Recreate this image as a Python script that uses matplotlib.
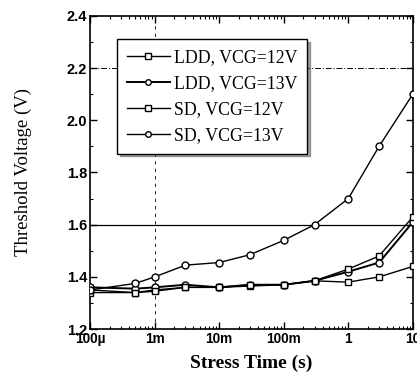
import matplotlib
matplotlib.use("Agg")
import matplotlib.pyplot as plt
from matplotlib.ticker import FixedLocator, MultipleLocator, LogLocator, NullFormatter

times = [1e-4, 5e-4, 1e-3, 3e-3, 1e-2, 3e-2, 1e-1, 3e-1, 1, 3, 10]
ldd_12 = [1.34, 1.34, 1.35, 1.36, 1.36, 1.365, 1.37, 1.385, 1.38, 1.40, 1.44]
ldd_13 = [1.36, 1.355, 1.36, 1.37, 1.36, 1.37, 1.37, 1.385, 1.42, 1.455, 1.61]
sd_12 = [1.35, 1.34, 1.345, 1.36, 1.36, 1.37, 1.37, 1.385, 1.43, 1.48, 1.63]
sd_13 = [1.35, 1.375, 1.40, 1.445, 1.455, 1.485, 1.54, 1.60, 1.70, 1.90, 2.10]

series_labels = ["LDD, VCG=12V", "LDD, VCG=13V", "SD, VCG=12V", "SD, VCG=13V"]
xtick_vals = [1e-4, 1e-3, 1e-2, 1e-1, 1, 10]
xtick_labels = ["100\u00b5", "1m", "10m", "100m", "1", "10"]
ytick_vals = [1.2, 1.4, 1.6, 1.8, 2.0, 2.2, 2.4]

fig = plt.figure(figsize=(4.17, 3.77), dpi=100)
ax = fig.add_axes([0.216, 0.127, 0.774, 0.831])

serif = "Liberation Serif"
sans = "Liberation Sans"

styles = [
    dict(marker="s", lw=1.0),
    dict(marker="o", lw=1.4),
    dict(marker="s", lw=1.0),
    dict(marker="o", lw=1.0),
]
for data, lab, st in zip([ldd_12, ldd_13, sd_12, sd_13], series_labels, styles):
    ax.plot(times, data, color="black", marker=st["marker"], lw=st["lw"],
            ms=5, mfc="white", mec="black", mew=1.0, label=lab, zorder=3)

ax.set_xscale("log")
ax.set_xlim(1e-4, 10)
ax.set_ylim(1.2, 2.4)

# reference lines
ax.axhline(1.6, color="black", lw=0.9, zorder=1)
ax.axhline(2.2, color="black", lw=0.7, ls=(0, (6, 2, 1, 2)), zorder=1)
ax.axvline(1e-3, color="black", lw=0.6, ls=(0, (4, 5)), zorder=1)

ax.xaxis.set_major_locator(FixedLocator(xtick_vals))
ax.set_xticklabels(xtick_labels, fontfamily=sans, fontsize=9.8, fontweight="bold")
ax.xaxis.set_minor_locator(LogLocator(base=10, subs=range(2, 10)))
ax.xaxis.set_minor_formatter(NullFormatter())
ax.yaxis.set_major_locator(FixedLocator(ytick_vals))
ax.set_yticklabels([f"{v:.1f}" for v in ytick_vals], fontfamily=sans, fontsize=10.5, fontweight="bold")
ax.yaxis.set_minor_locator(MultipleLocator(0.1))

ax.tick_params(which="both", direction="in", top=True, right=True)
ax.tick_params(which="major", length=5, width=1.0, pad=2)
ax.tick_params(which="minor", length=2.5, width=0.8)
for s in ax.spines.values():
    s.set_linewidth(1.2)

ax.set_xlabel("Stress Time (s)", fontfamily=serif, fontsize=14, fontweight="bold", labelpad=6)
ax.set_ylabel("Threshold Voltage (V)", fontfamily=serif, fontsize=13.5, labelpad=25)

leg = ax.legend(loc="upper left", bbox_to_anchor=(0.084, 0.925), prop={"family": serif, "size": 12.8},
                frameon=True, fancybox=False, shadow=True, edgecolor="black",
                handlelength=2.4, handletextpad=0.25, labelspacing=0.5, borderpad=0.55,
                borderaxespad=0, markerscale=0.8)
leg.get_frame().set_linewidth(1.0)
leg.set_zorder(5)

fig.savefig("out.png", dpi=100, facecolor="white")
